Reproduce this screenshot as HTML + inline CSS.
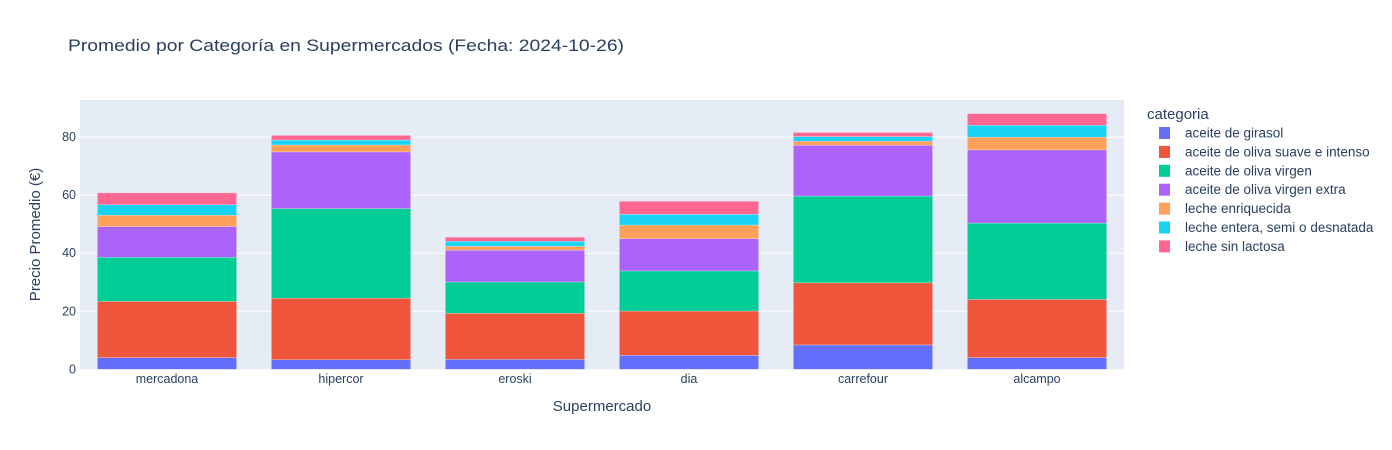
<!DOCTYPE html>
<html><head><meta charset="utf-8"><style>
body{margin:0;background:#fff;}
svg{display:block;font-family:"Liberation Sans","Open Sans",sans-serif;}
</style></head><body>
<svg id="chart" width="1392" height="450">
<rect x="0" y="0" width="1392" height="450" fill="#fff"/>
<text x="68" y="51" font-size="17" fill="#2a3f5f" textLength="556" lengthAdjust="spacingAndGlyphs">Promedio por Categoría en Supermercados (Fecha: 2024-10-26)</text>
<rect x="80" y="100" width="1044" height="269.3" fill="#e5ecf6"/>
<g id="grid"></g><g id="bars"></g><g id="ticks"></g>
<text x="602" y="411" font-size="15" fill="#2a3f5f" text-anchor="middle">Supermercado</text>
<text transform="translate(40,234.5) rotate(-90)" font-size="15" fill="#2a3f5f" text-anchor="middle">Precio Promedio (€)</text>
<text x="1147" y="119" font-size="15" fill="#2a3f5f">categoria</text>
<g id="legend"></g>
</svg>
<script>
const categories=["mercadona","hipercor","eroski","dia","carrefour","alcampo"];
const seriesNames=["aceite de girasol","aceite de oliva suave e intenso","aceite de oliva virgen","aceite de oliva virgen extra","leche enriquecida","leche entera, semi o desnatada","leche sin lactosa"];
const girasol=[4.0,3.3,3.4,4.8,8.4,4.0];
const suave=[19.4,21.2,15.9,15.3,21.4,20.1];
const virgen=[15.2,30.9,10.8,13.8,29.9,26.3];
const extra=[10.6,19.5,10.9,11.1,17.5,25.2];
const enriquecida=[3.9,2.4,1.4,4.7,1.4,4.4];
const entera=[3.6,1.7,1.7,3.7,1.6,4.1];
const sinLactosa=[4.1,1.6,1.4,4.5,1.4,4.0];
const yTicks=[0,20,40,60,80];
const series=[girasol,suave,virgen,extra,enriquecida,entera,sinLactosa];
const colors=["#636efa","#EF553B","#00cc96","#ab63fa","#FFA15A","#19d3f3","#FF6692"];
const NS="http://www.w3.org/2000/svg";
const X0=80,W=1044,Y0=369.3,YMAX=92.8,H=269.3;
const y=v=>Y0-v/YMAX*H;
const band=W/categories.length;
const xc=i=>X0+band*(i+0.5);
const bw=band*0.8;
function mk(tag,attrs,parent){const e=document.createElementNS(NS,tag);for(const k in attrs)e.setAttribute(k,attrs[k]);document.getElementById(parent).appendChild(e);return e;}
yTicks.forEach(t=>{
  if(t>0){const g=mk("line",{x1:X0,x2:X0+W,y1:y(t),y2:y(t),stroke:"#fff","stroke-width":1},"grid");
  
  }
  const tx=mk("text",{x:76,y:y(t)+4,"font-size":12.5,fill:"#2a3f5f","text-anchor":"end"},"ticks");tx.textContent=t;
  
  
});
categories.forEach((c,i)=>{
  let base=0;
  series.forEach((s,j)=>{
    const r=mk("rect",{x:xc(i)-bw/2,y:y(base+s[i]),width:bw,height:y(base)-y(base+s[i]),fill:colors[j],stroke:"rgba(229,236,246,0.6)","stroke-width":0.5},"bars");
    
    
    base+=s[i];
  });
  const tx=mk("text",{x:xc(i),y:383,"font-size":12.5,fill:"#2a3f5f","text-anchor":"middle"},"ticks");tx.textContent=c;
  
  
});
seriesNames.forEach((n,j)=>{
  const cy=133+j*18.9;
  const r=mk("rect",{x:1159,y:cy-6,width:11,height:12,fill:colors[j]},"legend");
  
  
  const t=mk("text",{x:1185,y:cy+4.5,"font-size":13.5,fill:"#2a3f5f"},"legend");t.textContent=n;
  
  
});
</script>
</body></html>
